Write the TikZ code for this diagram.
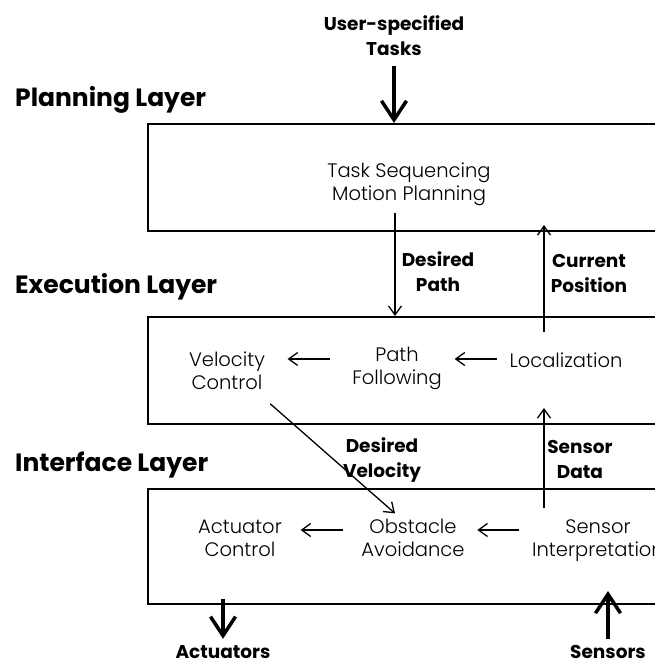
\documentclass[tikz,border=0pt]{standalone}
\usepackage{fontspec}
\setmainfont{Poppins}
\IfFontExistsTF{Poppins Light}
  {\newfontfamily\lightfont{Poppins Light}}
  {\newfontfamily\lightfont{Poppins}}
\usetikzlibrary{arrows.meta,calc}

% two centred lines whose baseline is the first line's baseline
\newcommand\twoline[2]{\begin{tabular}[t]{@{}c@{}}#1\\#2\end{tabular}}

\tikzset{
  layerbox/.style={draw, line width=2pt, inner sep=0pt, anchor=north west},
  txt/.style={font=\lightfont\fontsize{19.5}{23.5}\selectfont, inner sep=0pt, anchor=base},
  lbl/.style={font=\bfseries\fontsize{18.5}{25}\selectfont, inner sep=0pt, anchor=base},
  layertitle/.style={font=\bfseries\fontsize{25}{30}\selectfont, inner sep=0pt, anchor=base west},
  arr/.style={line width=1.3pt, -{Straight Barb[length=9pt,width=13pt]}},
  bigarr/.style={line width=3.5pt, -{Straight Barb[length=19pt,width=25pt]}},
}

\begin{document}
\begin{tikzpicture}[x=1pt,y=-1pt]
\useasboundingbox (0,0) rectangle (655,664);

% layer frames (they run past the right edge)
\node[layerbox, minimum width=560pt, minimum height=107pt] (planbox) at (147,123) {};
\node[layerbox, minimum width=560pt, minimum height=107pt] (execbox) at (147,316) {};
\node[layerbox, minimum width=560pt, minimum height=115pt] (intbox)  at (147,488) {};

% layer titles
\node[layertitle] (planning)  at (15,106) {Planning Layer};
\node[layertitle] (execution) at (15,293) {Execution Layer};
\node[layertitle] (interface) at (15,471) {Interface Layer};

% modules
\node[txt] (plantext)     at (409,177) {\twoline{Task Sequencing}{Motion Planning}};
\node[txt] (velocity)     at (227,366) {\twoline{Velocity}{Control}};
\node[txt] (pathfollow)   at (397,361) {\twoline{Path}{Following}};
\node[txt] (localization) at (566,367) {Localization};
\node[txt] (actuatorctl)  at (240,533) {\twoline{Actuator}{Control}};
\node[txt] (obstacle)     at (413,533) {\twoline{Obstacle}{Avoidance}};
\node[txt] (sensorinterp) at (598,533) {\twoline{Sensor}{Interpretation}};

% signal labels
\node[lbl] (tasks)       at (394,30)  {\twoline{User-specified}{Tasks}};
\node[lbl] (desiredpath) at (438,266) {\twoline{Desired}{Path}};
\node[lbl] (curpos)      at (589,267) {\twoline{Current}{Position}};
\node[lbl] (desiredvel)  at (382,452) {\twoline{Desired}{Velocity}};
\node[lbl] (sensordata)  at (580,453) {\twoline{Sensor}{Data}};
\node[lbl] (actuators)   at (223,658) {Actuators};
\node[lbl] (sensors)     at (608,658) {Sensors};

% rows and columns of the connectors
\coordinate (rowA) at (0,359);
\coordinate (rowB) at (0,530);
\coordinate (colA) at (395,0);
\coordinate (colB) at (544,0);

% external inputs and outputs
\draw[bigarr, shorten <=3pt] (tasks.south) -- (tasks.south |- planbox.north);
\draw[bigarr, shorten <=-6pt, shorten >=6pt] (intbox.south -| actuators.north) -- (actuators.north);
\draw[bigarr, shorten <=6pt, shorten >=-14pt] (sensors.north) -- (sensors.north |- intbox.south);

% between the layers
\draw[arr, shorten <=5pt] (plantext.south -| colA) -- (execbox.north -| colA);
\draw[arr, shorten <=20pt, shorten >=-7pt] (localization.north -| colB) -- (planbox.south -| colB);
\draw[arr, shorten <=8pt, shorten >=-17pt] (sensorinterp.north -| colB) -- (execbox.south -| colB);
\draw[arr] ([shift={(5,7)}]velocity.south east) -- ([shift={(-18,-3)}]obstacle.north);

% within the layers
\draw[arr] ($(rowA -| localization.west)!.5!(rowA -| pathfollow.east)+(21,0)$) -- ++(-42,0);
\draw[arr] ($(rowA -| pathfollow.west)!.5!(rowA -| velocity.east)+(21,0)$) -- ++(-42,0);
\draw[arr] ($(rowB -| sensorinterp.west)!.5!(rowB -| obstacle.east)+(21,0)$) -- ++(-42,0);
\draw[arr] ($(rowB -| obstacle.west)!.5!(rowB -| actuatorctl.east)+(21,0)$) -- ++(-42,0);
\end{tikzpicture}
\end{document}
